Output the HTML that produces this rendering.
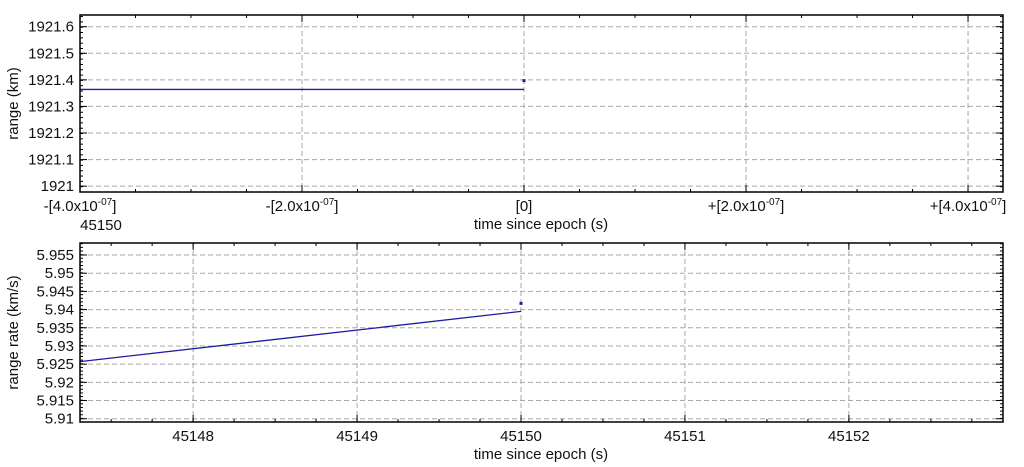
<!DOCTYPE html>
<html><head><meta charset="utf-8"><style>
html,body{margin:0;padding:0;background:#fff;}
svg{display:block;font-family:"Liberation Sans",sans-serif;}
</style></head><body>
<svg id="c" width="1024" height="467"></svg>
<script>
const topX = [-4e-7, 0];
const topY = [1921.364, 1921.364];
const topMarkX = [0];
const topMarkY = [1921.397];
const topYTicks = [1921, 1921.1, 1921.2, 1921.3, 1921.4, 1921.5, 1921.6];
const topYLabels = ["1921","1921.1","1921.2","1921.3","1921.4","1921.5","1921.6"];
const topXTicks = [-4e-7, -2e-7, 0, 2e-7, 4e-7];
const topXLabels = ["-[4.0x10|-07|]","-[2.0x10|-07|]","[0]","+[2.0x10|-07|]","+[4.0x10|-07|]"];
const botX = [45147.31, 45150];
const botY = [5.9257, 5.9395];
const botMarkX = [45150];
const botMarkY = [5.9417];
const botYTicks = [5.91,5.915,5.92,5.925,5.93,5.935,5.94,5.945,5.95,5.955];
const botYLabels = ["5.91","5.915","5.92","5.925","5.93","5.935","5.94","5.945","5.95","5.955"];
const botXTicks = [45148,45149,45150,45151,45152];
const botXLabels = ["45148","45149","45150","45151","45152"];

const NS="http://www.w3.org/2000/svg";
const svg=document.getElementById('c');
function mk(t,a,p){const e=document.createElementNS(NS,t);for(const k in a)e.setAttribute(k,a[k]);(p||svg).appendChild(e);return e;}
const FS=15;
function panel(o){
  const g=mk('g',{});
  
  
  const L=80,R=1003,T=o.top,B=o.bot;
  const sx=v=>L+(v-o.xmin)/(o.xmax-o.xmin)*(R-L);
  const sy=v=>B-(v-o.ymin)/(o.ymax-o.ymin)*(B-T);
  o.yt.forEach((v,i)=>{
    const y=sy(v);
    const gl=mk('line',{x1:L,x2:R,y1:y,y2:y,stroke:'#a8a8a8','stroke-dasharray':'5,3','stroke-width':1},g);
    
    
    mk('line',{x1:L,x2:L+7,y1:y,y2:y,stroke:'#000'},g);
    mk('line',{x1:R,x2:R-7,y1:y,y2:y,stroke:'#000'},g);
    const t=mk('text',{x:L-6,y:y+5,'text-anchor':'end','font-size':FS,fill:'#111'},g);
    t.textContent=o.yl[i];
    
    
  });
  for(let v=o.ymin;v<=o.ymax;v+=o.ymin2){const y=sy(v);mk('line',{x1:L,x2:L+3,y1:y,y2:y,stroke:'#000'},g);mk('line',{x1:R,x2:R-3,y1:y,y2:y,stroke:'#000'},g);}
  o.xt.forEach((v,i)=>{
    const x=sx(v);
    const gl=mk('line',{x1:x,x2:x,y1:T,y2:B,stroke:'#a8a8a8','stroke-dasharray':'5,3','stroke-width':1},g);
    
    
    mk('line',{x1:x,x2:x,y1:B,y2:B-7,stroke:'#000'},g);
    mk('line',{x1:x,x2:x,y1:T,y2:T+7,stroke:'#000'},g);
    const parts=o.xl[i].split('|');
    const t=mk('text',{x:x,y:B+19,'text-anchor':'middle','font-size':FS,fill:'#111'},g);
    
    
    if(parts.length===3){
      const a=mk('tspan',{},t);a.textContent=parts[0];
      const b=mk('tspan',{dy:-6,'font-size':10},t);b.textContent=parts[1];
      const c=mk('tspan',{dy:6},t);c.textContent=parts[2];
    } else t.textContent=parts[0];
  });
  for(let v=o.xt[0]-o.xmin2*10;v<=o.xmax;v+=o.xmin2){if(v<o.xmin)continue;const x=sx(v);mk('line',{x1:x,x2:x,y1:B,y2:B-3,stroke:'#000'},g);mk('line',{x1:x,x2:x,y1:T,y2:T+3,stroke:'#000'},g);}
  let d='';o.lx.forEach((v,i)=>{d+=(i?'L':'M')+sx(v)+','+sy(o.ly[i]);});
  const p=mk('path',{d:d,stroke:'#1c1ca0',fill:'none','stroke-width':1.3},g);
  
  
  o.mx.forEach((v,i)=>{
    const m=mk('rect',{x:sx(v)-1.5,y:sy(o.my[i])-1.5,width:3,height:3,fill:'#1c1ca0'},g);
    
    
  });
  mk('rect',{x:L,y:T,width:R-L,height:B-T,fill:'none',stroke:'#000','stroke-width':1.5},g);
  const xt=mk('text',{x:541,y:B+37,'text-anchor':'middle','font-size':FS,fill:'#111'},g);
  xt.textContent='time since epoch (s)';
  
  
  const yt=mk('text',{x:0,y:0,'text-anchor':'middle','font-size':FS,fill:'#111',transform:'translate(18,'+((T+B)/2)+') rotate(-90)'},g);
  yt.textContent=o.ytitle;
  
  
  return g;
}
panel({name:'range-plot',top:15,bot:192,xmin:-4e-7,xmax:4.315e-7,ymin:1920.978,ymax:1921.644,ymin2:0.02,xmin2:5e-8,
  yt:topYTicks,yl:topYLabels,xt:topXTicks,xl:topXLabels,lx:topX,ly:topY,mx:topMarkX,my:topMarkY,ytitle:'range (km)'});
const ep=mk('text',{x:101,y:230,'text-anchor':'middle','font-size':FS,fill:'#111'});
ep.textContent='45150';


panel({name:'range-rate-plot',top:243,bot:422,xmin:45147.31,xmax:45152.94,ymin:5.9091,ymax:5.9583,ymin2:0.001,xmin2:0.25,
  yt:botYTicks,yl:botYLabels,xt:botXTicks,xl:botXLabels,lx:botX,ly:botY,mx:botMarkX,my:botMarkY,ytitle:'range rate (km/s)'});
</script>
</body></html>
